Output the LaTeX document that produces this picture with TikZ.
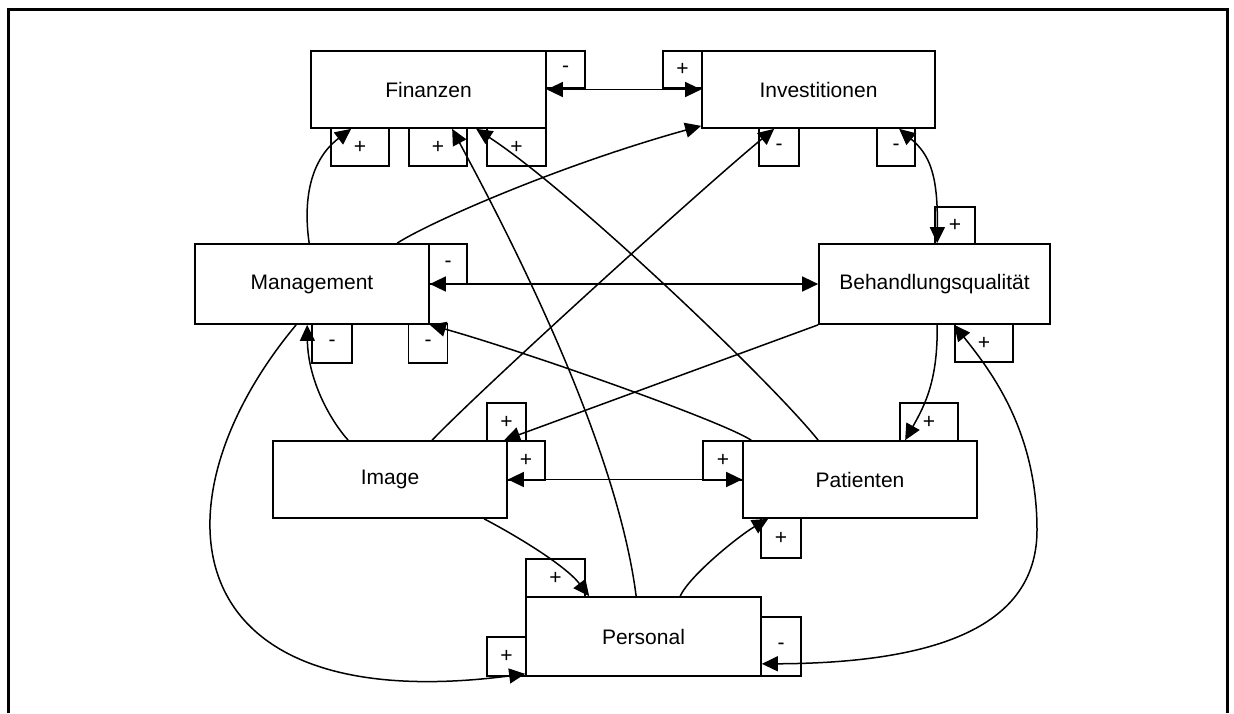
\documentclass[tikz,border=0pt]{standalone}
\usepackage{fontspec}
\setmainfont{Liberation Sans}
\usetikzlibrary{arrows.meta,calc}
\begin{document}
\begin{tikzpicture}[x=1pt,y=-1pt,
    >={Triangle[length=16pt,width=15pt]},
    box/.style={draw,line width=1.7pt,inner sep=0pt,minimum width=234pt,minimum height=77pt,font=\fontsize{21}{25}\selectfont},
    sgn/.style={draw,line width=1.7pt,inner sep=0pt,minimum width=39pt,minimum height=38pt,font=\fontsize{21}{24}\selectfont},
    lnk/.style={line width=1.5pt,->}]
  \useasboundingbox (0,0) rectangle (1234,713);
  \draw[line width=3pt] (8.5,713) -- (8.5,9.5) -- (1227.5,9.5) -- (1227.5,713);
  % factors
  \node[box,minimum width=235pt] (fin) at (428.5,89.5) {Finanzen};
  \node[box,minimum width=233pt] (inv) at (818.5,89.5) {Investitionen};
  \node[box,minimum height=80pt] (mgmt) at (312,284) {Management};
  \node[box,minimum width=231pt,minimum height=80pt] (bq) at (934.5,284) {Behandlungsqualität};
  \node[box] (img) at (390,479.5) {Image};
  \node[box] (pat) at (860,479.5) {Patienten};
  \node[box,minimum width=235pt,minimum height=79pt] (pers) at (643.5,636.5) {Personal};
  % signs
  \node[sgn,minimum height=37pt] (fin-r) at (565.5,69.5) {-};
  \node[sgn,minimum width=58pt] (fin-b1) at (360,147) {+};
  \node[sgn,minimum width=58pt] (fin-b2) at (438,147) {+};
  \node[sgn,minimum width=59pt] (fin-b3) at (516.5,147) {+};
  \node[sgn,minimum height=37pt] (inv-l) at (682.5,69.5) {+};
  \node[sgn,minimum width=40pt] (inv-b1) at (779,147) {-};
  \node[sgn,minimum width=38pt] (inv-b2) at (896,147) {-};
  \node[sgn,minimum width=40pt,minimum height=37pt] (bq-t) at (955,225.5) {+};
  \node[sgn,minimum width=58pt] (bq-b) at (984,343) {+};
  \node[sgn,minimum width=38pt,minimum height=40pt] (mgmt-r) at (448,264) {-};
  \node[sgn,minimum width=40pt,minimum height=39pt] (mgmt-b1) at (332,343.5) {-};
  \node[sgn,minimum height=39pt] (mgmt-b2) at (428,343.5) {-};
  \node[sgn] (img-t) at (506.5,422) {+};
  \node[sgn,minimum width=38pt,minimum height=39pt] (img-r) at (526,460.5) {+};
  \node[sgn,minimum width=40pt,minimum height=39pt] (pat-l) at (723,460.5) {+};
  \node[sgn,minimum width=58pt] (pat-t) at (929,422) {+};
  \node[sgn,minimum width=40pt,minimum height=40pt] (pat-b) at (781,538) {+};
  \node[sgn,minimum width=59pt] (pers-t) at (555.5,578) {+};
  \node[sgn,minimum width=40pt,minimum height=59pt] (pers-r) at (781,646.5) {-};
  \node[sgn,minimum height=39pt] (pers-l) at (506.5,656.5) {+};
  % links
  \begin{scope}[lnk]
    \draw[<->] (fin) -- (inv);
    \draw[<->] (mgmt) -- (bq);
    \draw[<->] (img) -- (pat);
    \draw ($(mgmt.north west)+(115,0)$) .. controls (303,200) and (310,160) .. ($(fin.south west)+(41,0)$);
    \draw ($(mgmt.north west)+(203,0)$) .. controls (430,222) and (560,165) .. ($(inv.south west)+(0,-3)$);
    \draw ($(pers.north west)+(111,0)$) .. controls (615,430) and (490,200) .. ($(fin.south west)+(142,0)$);
    \draw ($(pat.north west)+(76,0)$) .. controls (770,380) and (570,190) .. ($(fin.south west)+(166,0)$);
    \draw ($(img.north west)+(160,0)$) .. controls (480,390) and (700,190) .. ($(inv.south west)+(73,0)$);
    \draw[<->] ($(inv.south west)+(198,0)$) .. controls (930,155) and (938,175) .. ($(bq.north west)+(119,0)$);
    \draw (bq.south west) -- ($(img.north west)+(232,0)$);
    \draw ($(pat.north west)+(9,0)$) .. controls (720,420) and (520,350) .. (mgmt.south east);
    \draw ($(img.north west)+(76,0)$) .. controls (330,420) and (308,380) .. ($(mgmt.south west)+(113,0)$);
    \draw ($(bq.south west)+(119,0)$) .. controls (938,380) and (925,405) .. ($(pat.north west)+(163,0)$);
    \draw ($(img.south west)+(212,0)$) .. controls (515,535) and (565,565) .. ($(pers.north west)+(64,0)$);
    \draw ($(pers.north west)+(155,0)$) .. controls (690,575) and (740,535) .. ($(pat.south west)+(26,0)$);
    \draw ($(mgmt.south west)+(102,0)$) .. controls (150,500) and (170,720) .. ($(pers.south west)+(0,-3)$);
    \draw[<->] ($(pers.south east)+(0,-13)$) .. controls (950,663) and (1037,620) .. (1037,530)
      .. controls (1037,430) and (990,370) .. ($(bq.south west)+(136,0)$);
  \end{scope}
\end{tikzpicture}
\end{document}
